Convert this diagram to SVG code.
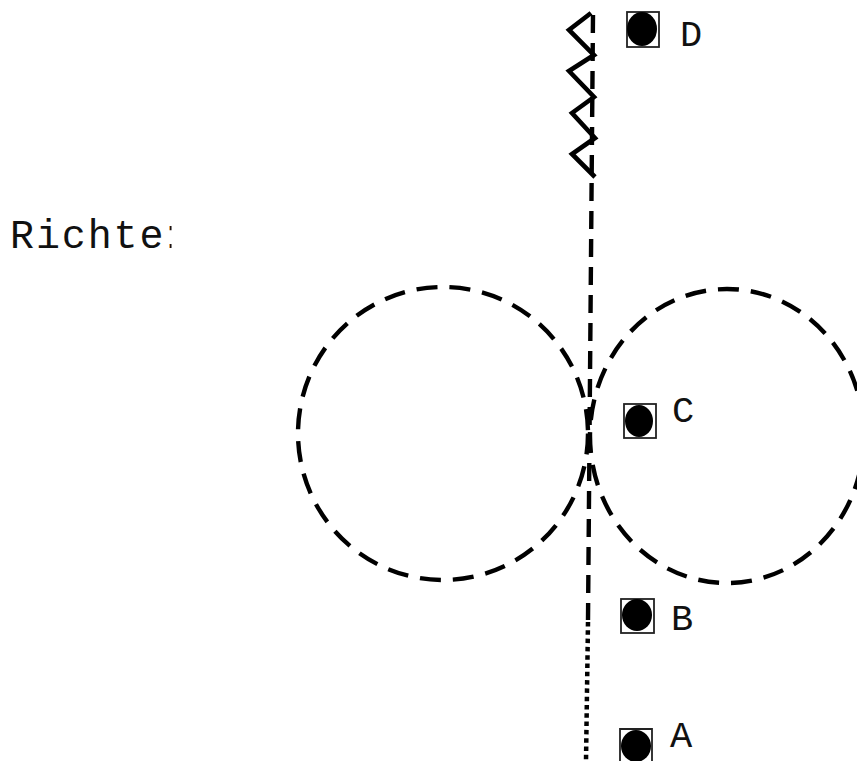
<svg xmlns="http://www.w3.org/2000/svg" width="857" height="761" viewBox="0 0 857 761">
<defs><clipPath id="cut"><rect x="0" y="200" width="171.500" height="70"/></clipPath></defs>
<style>
text{font-family:"Liberation Mono",monospace;font-size:37px;fill:#111}
.colon{font-family:"Liberation Sans",sans-serif;letter-spacing:0}
.box{fill:none;stroke:#222;stroke-width:1.8}
.dot{fill:#000}
.conn{fill:none;stroke:#000}
.dash{stroke-width:4.4;stroke-dasharray:18 10}
.circ{stroke-width:4.4;stroke-dasharray:21 12}
.dots{stroke-width:4.5;stroke-dasharray:4.5 3.8}
.zig{stroke-width:4.6;stroke-linejoin:miter}
</style>
<rect width="857" height="761" fill="#fff"/>
<g id="connectors">
<path class="conn dash" d="M593 15L588 620"/>
<path class="conn dots" d="M588 622L586 761"/>
<path class="conn zig" d="M591 13L569 30L594 55L569 71L594 97L572 113L595 138L572 154L595 177"/>
<ellipse class="conn circ" cx="443" cy="433.500" rx="145" ry="146.500"/>
<ellipse class="conn circ" cx="727" cy="436" rx="137" ry="147"/>
</g>
<g id="label-richter"><text x="10" y="248" style="font-size:40px;letter-spacing:1.9px" clip-path="url(#cut)">Richte<tspan class="colon" x="166">:</tspan></text></g>
<g id="node-d"><rect class="box" x="627" y="12" width="32" height="35"/><ellipse class="dot" cx="642" cy="29" rx="15" ry="17"/><text x="680" y="46">D</text></g>
<g id="node-c"><rect class="box" x="624" y="404" width="32" height="34"/><ellipse class="dot" cx="639" cy="421" rx="14" ry="16"/><text x="672" y="422">C</text></g>
<g id="node-b"><rect class="box" x="621" y="599" width="33" height="34"/><ellipse class="dot" cx="637" cy="615" rx="15" ry="16"/><text x="671" y="630">B</text></g>
<g id="node-a"><path class="box" d="M620 761V729H652V761"/><ellipse class="dot" cx="636" cy="746" rx="15" ry="16"/><text x="670" y="747">A</text></g>
</svg>
